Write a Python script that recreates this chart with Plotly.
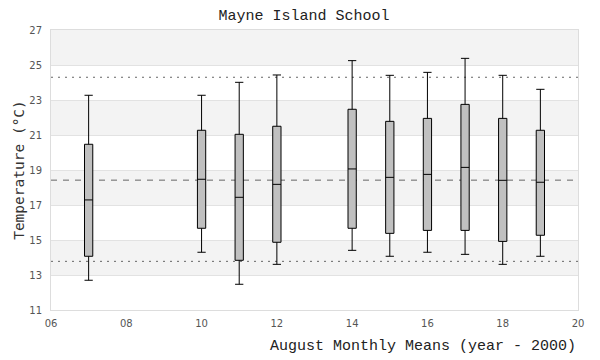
import plotly.graph_objects as go

years = [7, 10, 11, 12, 14, 15, 16, 17, 18, 19]
upper_whisker = [23.27, 23.27, 24.01, 24.43, 25.25, 24.41, 24.58, 25.38, 24.41, 23.61]
q3_values = [20.47, 21.27, 21.04, 21.50, 22.47, 21.78, 21.95, 22.75, 21.95, 21.27]
medians = [17.29, 18.47, 17.44, 18.18, 19.06, 18.58, 18.75, 19.15, 18.41, 18.30]
q1_values = [14.07, 15.67, 13.84, 14.87, 15.67, 15.38, 15.55, 15.55, 14.92, 15.27]
lower_whisker = [12.70, 14.30, 12.47, 13.61, 14.41, 14.07, 14.30, 14.18, 13.61, 14.07]

overall_mean = 18.42
upper_limit = 24.30
lower_limit = 13.78

x_ticks = [6, 8, 10, 12, 14, 16, 18, 20]
x_tick_labels = ["06", "08", "10", "12", "14", "16", "18", "20"]
y_ticks = [11, 13, 15, 17, 19, 21, 23, 25, 27]
band_starts = [13, 17, 21, 25]

mono = "Liberation Mono"

fig = go.Figure()
fig.add_trace(go.Box(
    x=years, q1=q1_values, median=medians, q3=q3_values,
    lowerfence=lower_whisker, upperfence=upper_whisker,
    boxpoints=False, width=0.22, whiskerwidth=1,
    fillcolor="#c0c0c0", line=dict(color="black", width=1),
    hoverinfo="skip", showlegend=False,
))

shapes = []
for b in band_starts:
    shapes.append(dict(type="rect", xref="paper", yref="y", x0=0, x1=1, y0=b, y1=b + 2,
                       fillcolor="#f3f3f3", line=dict(width=0), layer="below"))
shapes.append(dict(type="line", xref="paper", yref="y", x0=0, x1=1, y0=overall_mean, y1=overall_mean,
                   line=dict(color="#666666", width=1, dash="6px,6px"), layer="below"))
for v in (upper_limit, lower_limit):
    shapes.append(dict(type="line", xref="paper", yref="y", x0=0, x1=1, y0=v, y1=v,
                       line=dict(color="#666666", width=1, dash="2px,5px"), layer="below"))

fig.update_layout(
    width=592, height=352,
    margin=dict(l=43, r=22, t=22, b=50),
    paper_bgcolor="white", plot_bgcolor="white",
    shapes=shapes,
    title=dict(text="Mayne Island School", x=0.5, xanchor="center", y=0.98, yanchor="middle",
               font=dict(family=mono, size=15, color="#222")),
    xaxis=dict(range=[6, 20], tickvals=x_ticks, ticktext=x_tick_labels,
               showgrid=False, zeroline=False, showline=True, mirror=True,
               linecolor="#dddddd", linewidth=1, ticks="", ticklabelstandoff=4,
               tickfont=dict(family="DejaVu Sans", size=10, color="#555")),
    yaxis=dict(range=[11, 27], tickvals=y_ticks, showgrid=True, gridcolor="#e2e2e2",
               zeroline=False, showline=True, mirror=True, linecolor="#dddddd", linewidth=1,
               ticks="", ticklabelstandoff=6,
               tickfont=dict(family="DejaVu Sans", size=10, color="#555")),
    annotations=[
        dict(text="August Monthly Means (year - 2000)", xref="paper", yref="paper",
             x=1.0, y=-0.132, xanchor="right", yanchor="middle", showarrow=False,
             font=dict(family=mono, size=15, color="#222")),
        dict(text="Temperature (°C)", xref="paper", yref="paper", textangle=-90,
             x=-0.061, y=0.5, xanchor="center", yanchor="middle", showarrow=False,
             font=dict(family="DejaVu Sans Mono", size=14.5, color="#333")),
    ],
)

fig.write_html("out.html")
